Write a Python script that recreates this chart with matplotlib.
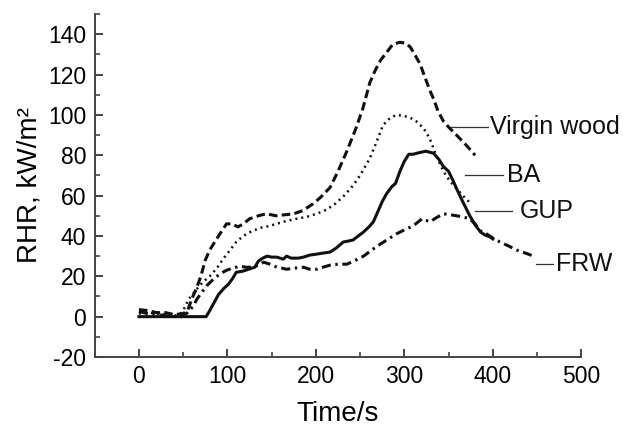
import matplotlib
matplotlib.use("Agg")
import matplotlib.pyplot as plt
from matplotlib.ticker import MultipleLocator

plt.rcParams['font.family'] = ['Liberation Sans', 'DejaVu Sans']
plt.rcParams['axes.unicode_minus'] = False

# Virgin wood (dashed)
vw_t = [0, 10, 20, 30, 40, 50, 55, 60, 65, 70, 75, 80, 90, 99, 105, 112, 118, 125, 135, 144, 155, 165, 175, 185,
        197, 205, 216, 225, 235, 245, 253, 261, 267, 273, 280, 287, 295, 302, 307, 313, 318, 323, 329, 333, 338,
        344, 350, 359, 370, 380]
vw_y = [3.5, 3, 2, 2, 1, 1.5, 3, 9, 14, 20, 28, 33, 40, 46, 46, 44.5, 46, 48.5, 50, 51, 50, 50.5, 51, 52.5,
        56, 59, 64, 72, 82, 93, 103, 116, 122, 127, 131, 135, 136, 135.5, 133.5, 129, 125, 119, 112, 108, 102,
        97, 94, 90, 85, 80]

# GUP (dotted)
gup_t = [0, 10, 20, 30, 40, 46, 50, 56, 65, 72, 80, 88, 95, 103, 110, 118, 126, 137, 148, 163, 178, 190, 201,
         212, 222, 232, 242, 250, 261, 268, 276, 284, 291, 300, 307, 313, 318, 324, 329, 335, 341, 347, 352, 360,
         366, 373]
gup_y = [1.5, 2, 1.5, 1, 0.5, 1, 3, 8.5, 13.5, 17, 20, 24, 28.5, 33, 37, 40, 42, 44, 45, 47, 48.5, 49.5, 51,
         53, 56, 60, 65, 70, 78.5, 86, 95, 98.5, 100, 99.5, 98.5, 97, 95, 92, 88, 81, 75, 70, 67, 63,
         60, 57]

# BA (solid)
ba_t = [0, 76, 80, 85, 90, 96, 101, 106, 110, 117, 124, 131, 135, 140, 145, 150, 156, 163, 167, 172, 180, 186,
        193, 201, 208, 216, 223, 231, 237, 242, 248, 254, 260, 265, 270, 275, 280, 286, 290, 295, 300, 305, 310,
        314, 319, 324, 329, 333, 339, 344, 350, 355, 359, 366, 374, 380, 386, 391, 397, 400]
ba_y = [0, 0, 3, 7, 11, 14, 16, 19, 22, 22.5, 23.5, 24.5, 27.5, 29, 30, 29.5, 29.5, 28.5, 30, 29, 29, 29.5,
        30.5, 31, 31.5, 32, 34, 37, 37.5, 38, 40, 42, 44.5, 47, 52, 57, 61, 64.5, 66, 72, 77, 80.5, 80.5,
        81, 81.5, 82, 81.5, 81, 78, 74.5, 72, 67.5, 63.5, 57, 50, 45.5, 42, 40.5, 39.5, 38.5]

# FRW (dash-dot)
frw_t = [0, 10, 20, 30, 40, 48, 55, 61, 66, 71, 77, 84, 91, 99, 106, 114, 121, 129, 135, 141, 148, 156, 162,
         167, 175, 186, 193, 201, 208, 216, 225, 235, 245, 254, 263, 273, 282, 291, 300, 310, 320, 329, 336,
         344, 352, 359, 366, 374, 380, 386, 393, 400, 408, 418, 427, 437, 446, 448]
frw_y = [2.5, 1.5, 1, 0.5, 0, 0, 2, 5, 9, 12, 15.5, 18.5, 21, 23, 24, 25, 24.5, 24.5, 25.5, 27, 26, 24.5, 24,
         23.5, 24, 24.5, 23.5, 23.5, 24.5, 25.5, 26, 26, 28, 30, 33, 36, 38.5, 41, 43, 45, 48.5, 47, 49,
         51, 50.5, 50, 49.5, 48.5, 46, 42.5, 41, 39, 37, 35, 33, 31.5, 30, 29.5]

labels = ["Virgin wood", "BA", "GUP", "FRW"]
label_x = [397, 416, 431, 472]
label_y = [94, 70, 52.6, 26]
leader_x0 = [353, 369, 380, 449]
leader_x1 = [395, 412, 422, 468]

fig = plt.figure(figsize=(6.23, 4.26), dpi=100)
ax = fig.add_axes([0.152, 0.162, 0.781, 0.805])

ax.plot(vw_t, vw_y, color='#111111', lw=2.2, linestyle=(0, (2.8, 1.4)))
ax.plot(gup_t, gup_y, color='#111111', lw=1.8, linestyle=(0, (0.8, 1.6)))
ax.plot(ba_t, ba_y, color='#111111', lw=2.2, linestyle='-')
ax.plot(frw_t, frw_y, color='#111111', lw=2.2, linestyle=(0, (3.0, 1.5, 0.8, 1.5)))

for lab, lx, ly, x0, x1 in zip(labels, label_x, label_y, leader_x0, leader_x1):
    ax.plot([x0, x1], [ly, ly], color='#333333', lw=0.9)
    ax.text(lx, ly, lab, fontsize=18, va='center', ha='left', color='#111111', clip_on=False)

ax.set_xlim(-50, 500)
ax.set_ylim(-20, 150)
ax.xaxis.set_major_locator(MultipleLocator(100))
ax.xaxis.set_minor_locator(MultipleLocator(50))
ax.yaxis.set_major_locator(MultipleLocator(20))
ax.yaxis.set_minor_locator(MultipleLocator(10))
ax.set_xticks([0, 100, 200, 300, 400, 500])
ax.set_yticks([-20, 0, 20, 40, 60, 80, 100, 120, 140])

for s in ['top', 'right']:
    ax.spines[s].set_visible(False)
for s in ['left', 'bottom']:
    ax.spines[s].set_linewidth(1.4)
    ax.spines[s].set_color('#444444')

ax.tick_params(which='major', direction='in', length=6, width=1.4, color='#444444', labelsize=16.5, pad=6)
ax.tick_params(which='minor', direction='in', length=3.5, width=1.2, color='#444444')

ax.set_xlabel('Time/s', fontsize=20, labelpad=9)
ax.set_ylabel('RHR, kW/m²', fontsize=20, labelpad=4)

fig.savefig('out.png', dpi=100)
